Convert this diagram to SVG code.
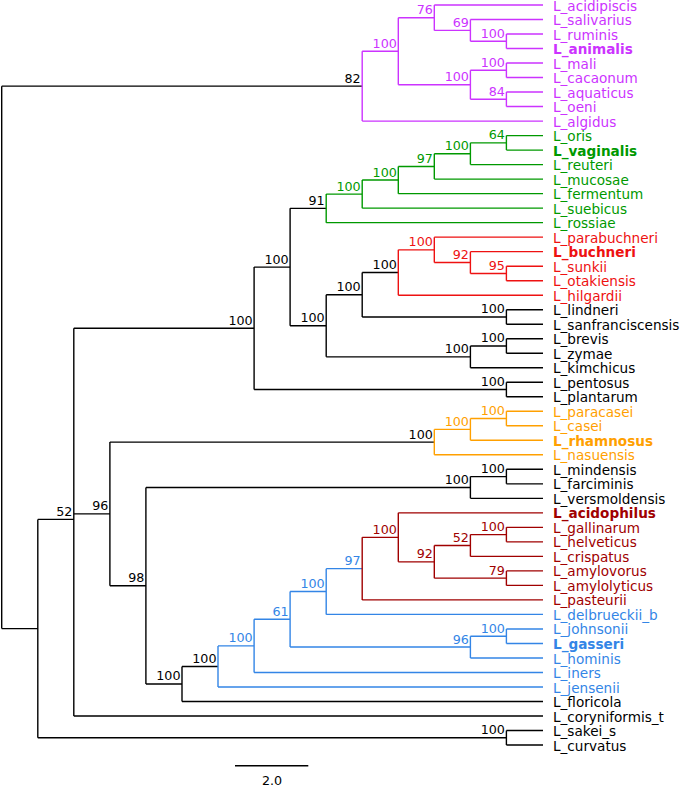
<svg xmlns="http://www.w3.org/2000/svg" width="682" height="787" viewBox="0 0 682 787">
<style>
text{font-family:"DejaVu Sans",Verdana,sans-serif}
.t{font-size:13.6px}
.s{font-size:12.7px;text-anchor:end}
.bd{font-weight:bold}
path{fill:none;stroke-width:1.4}
.k{stroke:#000}.m{stroke:#CC33FF}.g{stroke:#009900}.r{stroke:#EE1111}.o{stroke:#FFA000}.d{stroke:#A00000}.b{stroke:#3385E6}
.tk{fill:#000}.tm{fill:#CC33FF}.tg{fill:#009900}.tr{fill:#EE1111}.to{fill:#FFA000}.td{fill:#A00000}.tb{fill:#3385E6}
</style>
<g id="connectors">
<path class="k" d="M1.7 86.17V628.59M1.7 86.17H362.2M1.7 628.59H37.8M37.8 519.41V737.76M37.8 737.76H506.4M506.4 730.5V745.01M506.4 730.5H543M506.4 745.01H543M37.8 519.41H73.8M73.8 328.31V715.99M73.8 715.99H543M73.8 328.31H254.1M254.1 267.09V389.52M254.1 389.52H506.4M506.4 382.26V396.77M506.4 382.26H543M506.4 396.77H543M254.1 267.09H290.1M290.1 208.37V325.81M290.1 208.37H326.2M290.1 325.81H326.2M326.2 294.75V356.87M326.2 294.75H362.2M362.2 272.53V316.97M362.2 272.53H398.3M362.2 316.97H506.4M506.4 309.71V324.22M506.4 309.71H543M506.4 324.22H543M326.2 356.87H470.4M470.4 345.99V367.75M470.4 367.75H543M470.4 345.99H506.4M506.4 338.73V353.24M506.4 338.73H543M506.4 353.24H543M73.8 513.92H109.9M109.9 442.12V585.71M109.9 442.12H434.3M109.9 585.71H145.9M145.9 487.46V683.96M145.9 487.46H470.4M470.4 476.58V498.34M470.4 498.34H543M470.4 476.58H506.4M506.4 469.32V483.83M506.4 469.32H543M506.4 483.83H543M145.9 683.96H182M182 666.43V701.48M182 701.48H543M182 666.43H218"/>
<path class="m" d="M362.2 51.25V121.08M362.2 121.08H543M362.2 51.25H398.3M398.3 17.7V84.81M398.3 17.7H434.3M434.3 5V30.39M434.3 5H543M434.3 30.39H470.4M470.4 19.51V41.27M470.4 19.51H543M470.4 41.27H506.4M506.4 34.02V48.53M506.4 34.02H543M506.4 48.53H543M398.3 84.81H470.4M470.4 70.3V99.32M470.4 70.3H506.4M506.4 63.04V77.55M506.4 63.04H543M506.4 77.55H543M470.4 99.32H506.4M506.4 92.06V106.57M506.4 92.06H543M506.4 106.57H543"/>
<path class="g" d="M326.2 194.09V222.65M326.2 222.65H543M326.2 194.09H362.2M362.2 180.03V208.14M362.2 208.14H543M362.2 180.03H398.3M398.3 166.43V193.63M398.3 193.63H543M398.3 166.43H434.3M434.3 153.73V179.12M434.3 179.12H543M434.3 153.73H470.4M470.4 142.85V164.61M470.4 164.61H543M470.4 142.85H506.4M506.4 135.59V150.1M506.4 135.59H543M506.4 150.1H543"/>
<path class="r" d="M398.3 249.86V295.2M398.3 295.2H543M398.3 249.86H434.3M434.3 237.16V262.56M434.3 237.16H543M434.3 262.56H470.4M470.4 251.67V273.44M470.4 251.67H543M470.4 273.44H506.4M506.4 266.18V280.69M506.4 266.18H543M506.4 280.69H543"/>
<path class="o" d="M434.3 429.42V454.81M434.3 454.81H543M434.3 429.42H470.4M470.4 418.54V440.3M470.4 440.3H543M470.4 418.54H506.4M506.4 411.28V425.79M506.4 411.28H543M506.4 425.79H543"/>
<path class="b" d="M218 645.88V686.97M218 686.97H543M218 645.88H254.1M254.1 619.3V672.46M254.1 672.46H543M254.1 619.3H290.1M290.1 591.53V647.07M290.1 647.07H470.4M470.4 636.19V657.95M470.4 657.95H543M470.4 636.19H506.4M506.4 628.93V643.44M506.4 628.93H543M506.4 643.44H543M290.1 591.53H326.2M326.2 568.63V614.42M326.2 614.42H543M326.2 568.63H362.2"/>
<path class="d" d="M362.2 537.34V599.91M362.2 599.91H543M362.2 537.34H398.3M398.3 512.85V561.83M398.3 512.85H543M398.3 561.83H434.3M434.3 545.5V578.15M434.3 545.5H470.4M470.4 534.62V556.38M470.4 556.38H543M470.4 534.62H506.4M506.4 527.36V541.87M506.4 527.36H543M506.4 541.87H543M434.3 578.15H506.4M506.4 570.89V585.4M506.4 570.89H543M506.4 585.4H543"/>
</g>
<g id="support-values">
<g id="n-82"><text class="s tk" x="360.7" y="82.67">82</text></g>
<g id="n-m1"><text class="s tm" x="396.8" y="47.75">100</text></g>
<g id="n-m2"><text class="s tm" x="432.8" y="14.2">76</text></g>
<g id="n-m3"><text class="s tm" x="468.9" y="26.89">69</text></g>
<g id="n-m4"><text class="s tm" x="504.9" y="37.77">100</text></g>
<g id="n-m5"><text class="s tm" x="468.9" y="81.31">100</text></g>
<g id="n-m6"><text class="s tm" x="504.9" y="66.8">100</text></g>
<g id="n-m7"><text class="s tm" x="504.9" y="95.82">84</text></g>
<g id="n-91"><text class="s tk" x="324.7" y="204.87">91</text></g>
<g id="n-g1"><text class="s tg" x="360.7" y="190.59">100</text></g>
<g id="n-g2"><text class="s tg" x="396.8" y="176.53">100</text></g>
<g id="n-g3"><text class="s tg" x="432.8" y="162.93">97</text></g>
<g id="n-g4"><text class="s tg" x="468.9" y="150.23">100</text></g>
<g id="n-g5"><text class="s tg" x="504.9" y="139.35">64</text></g>
<g id="n-k1"><text class="s tk" x="288.6" y="263.59">100</text></g>
<g id="n-k2"><text class="s tk" x="324.7" y="322.31">100</text></g>
<g id="n-k3"><text class="s tk" x="360.7" y="291.25">100</text></g>
<g id="n-k4"><text class="s tk" x="396.8" y="269.03">100</text></g>
<g id="n-r1"><text class="s tr" x="432.8" y="246.36">100</text></g>
<g id="n-r2"><text class="s tr" x="468.9" y="259.06">92</text></g>
<g id="n-r3"><text class="s tr" x="504.9" y="269.94">95</text></g>
<g id="n-k5"><text class="s tk" x="504.9" y="313.47">100</text></g>
<g id="n-k6"><text class="s tk" x="468.9" y="353.37">100</text></g>
<g id="n-k7"><text class="s tk" x="504.9" y="342.49">100</text></g>
<g id="n-k8"><text class="s tk" x="504.9" y="386.02">100</text></g>
<g id="n-k9"><text class="s tk" x="252.6" y="324.81">100</text></g>
<g id="n-k10"><text class="s tk" x="432.8" y="438.62">100</text></g>
<g id="n-o1"><text class="s to" x="468.9" y="425.92">100</text></g>
<g id="n-o2"><text class="s to" x="504.9" y="415.04">100</text></g>
<g id="n-k11"><text class="s tk" x="468.9" y="483.96">100</text></g>
<g id="n-k12"><text class="s tk" x="504.9" y="473.08">100</text></g>
<g id="n-52"><text class="s tk" x="72.3" y="515.91">52</text></g>
<g id="n-96"><text class="s tk" x="108.4" y="510.42">96</text></g>
<g id="n-98"><text class="s tk" x="144.4" y="582.21">98</text></g>
<g id="n-k13"><text class="s tk" x="180.5" y="680.46">100</text></g>
<g id="n-k14"><text class="s tk" x="216.5" y="662.93">100</text></g>
<g id="n-b1"><text class="s tb" x="252.6" y="642.38">100</text></g>
<g id="n-b2"><text class="s tb" x="288.6" y="615.8">61</text></g>
<g id="n-b3"><text class="s tb" x="324.7" y="588.03">100</text></g>
<g id="n-b4"><text class="s tb" x="360.7" y="565.13">97</text></g>
<g id="n-d1"><text class="s td" x="396.8" y="533.84">100</text></g>
<g id="n-d2"><text class="s td" x="432.8" y="558.33">92</text></g>
<g id="n-d3"><text class="s td" x="468.9" y="542">52</text></g>
<g id="n-d4"><text class="s td" x="504.9" y="531.12">100</text></g>
<g id="n-d5"><text class="s td" x="504.9" y="574.65">79</text></g>
<g id="n-b5"><text class="s tb" x="468.9" y="643.57">96</text></g>
<g id="n-b6"><text class="s tb" x="504.9" y="632.69">100</text></g>
<g id="n-k15"><text class="s tk" x="504.9" y="734.26">100</text></g>
</g>
<g id="leaves">
<g id="L_acidipiscis"><text class="t tm" x="553" y="10.5">L_acidipiscis</text></g>
<g id="L_salivarius"><text class="t tm" x="553" y="25">L_salivarius</text></g>
<g id="L_ruminis"><text class="t tm" x="553" y="39.5">L_ruminis</text></g>
<g id="L_animalis"><text class="t tm bd" x="553" y="54">L_animalis</text></g>
<g id="L_mali"><text class="t tm" x="553" y="68.5">L_mali</text></g>
<g id="L_cacaonum"><text class="t tm" x="553" y="83">L_cacaonum</text></g>
<g id="L_aquaticus"><text class="t tm" x="553" y="97.5">L_aquaticus</text></g>
<g id="L_oeni"><text class="t tm" x="553" y="112">L_oeni</text></g>
<g id="L_algidus"><text class="t tm" x="553" y="126.5">L_algidus</text></g>
<g id="L_oris"><text class="t tg" x="553" y="141">L_oris</text></g>
<g id="L_vaginalis"><text class="t tg bd" x="553" y="155.6">L_vaginalis</text></g>
<g id="L_reuteri"><text class="t tg" x="553" y="170.1">L_reuteri</text></g>
<g id="L_mucosae"><text class="t tg" x="553" y="184.6">L_mucosae</text></g>
<g id="L_fermentum"><text class="t tg" x="553" y="199.1">L_fermentum</text></g>
<g id="L_suebicus"><text class="t tg" x="553" y="213.6">L_suebicus</text></g>
<g id="L_rossiae"><text class="t tg" x="553" y="228.1">L_rossiae</text></g>
<g id="L_parabuchneri"><text class="t tr" x="553" y="242.7">L_parabuchneri</text></g>
<g id="L_buchneri"><text class="t tr bd" x="553" y="257.2">L_buchneri</text></g>
<g id="L_sunkii"><text class="t tr" x="553" y="271.7">L_sunkii</text></g>
<g id="L_otakiensis"><text class="t tr" x="553" y="286.2">L_otakiensis</text></g>
<g id="L_hilgardii"><text class="t tr" x="553" y="300.7">L_hilgardii</text></g>
<g id="L_lindneri"><text class="t tk" x="553" y="315.2">L_lindneri</text></g>
<g id="L_sanfranciscensis"><text class="t tk" x="553" y="329.7">L_sanfranciscensis</text></g>
<g id="L_brevis"><text class="t tk" x="553" y="344.2">L_brevis</text></g>
<g id="L_zymae"><text class="t tk" x="553" y="358.7">L_zymae</text></g>
<g id="L_kimchicus"><text class="t tk" x="553" y="373.2">L_kimchicus</text></g>
<g id="L_pentosus"><text class="t tk" x="553" y="387.8">L_pentosus</text></g>
<g id="L_plantarum"><text class="t tk" x="553" y="402.3">L_plantarum</text></g>
<g id="L_paracasei"><text class="t to" x="553" y="416.8">L_paracasei</text></g>
<g id="L_casei"><text class="t to" x="553" y="431.3">L_casei</text></g>
<g id="L_rhamnosus"><text class="t to bd" x="553" y="445.8">L_rhamnosus</text></g>
<g id="L_nasuensis"><text class="t to" x="553" y="460.3">L_nasuensis</text></g>
<g id="L_mindensis"><text class="t tk" x="553" y="474.8">L_mindensis</text></g>
<g id="L_farciminis"><text class="t tk" x="553" y="489.3">L_farciminis</text></g>
<g id="L_versmoldensis"><text class="t tk" x="553" y="503.8">L_versmoldensis</text></g>
<g id="L_acidophilus"><text class="t td bd" x="553" y="518.4">L_acidophilus</text></g>
<g id="L_gallinarum"><text class="t td" x="553" y="532.9">L_gallinarum</text></g>
<g id="L_helveticus"><text class="t td" x="553" y="547.4">L_helveticus</text></g>
<g id="L_crispatus"><text class="t td" x="553" y="561.9">L_crispatus</text></g>
<g id="L_amylovorus"><text class="t td" x="553" y="576.4">L_amylovorus</text></g>
<g id="L_amylolyticus"><text class="t td" x="553" y="590.9">L_amylolyticus</text></g>
<g id="L_pasteurii"><text class="t td" x="553" y="605.4">L_pasteurii</text></g>
<g id="L_delbrueckii_b"><text class="t tb" x="553" y="619.9">L_delbrueckii_b</text></g>
<g id="L_johnsonii"><text class="t tb" x="553" y="634.4">L_johnsonii</text></g>
<g id="L_gasseri"><text class="t tb bd" x="553" y="648.9">L_gasseri</text></g>
<g id="L_hominis"><text class="t tb" x="553" y="663.5">L_hominis</text></g>
<g id="L_iners"><text class="t tb" x="553" y="678">L_iners</text></g>
<g id="L_jensenii"><text class="t tb" x="553" y="692.5">L_jensenii</text></g>
<g id="L_floricola"><text class="t tk" x="553" y="707">L_floricola</text></g>
<g id="L_coryniformis_t"><text class="t tk" x="553" y="721.5">L_coryniformis_t</text></g>
<g id="L_sakei_s"><text class="t tk" x="553" y="736">L_sakei_s</text></g>
<g id="L_curvatus"><text class="t tk" x="553" y="750.5">L_curvatus</text></g>
</g>
<g id="scale-bar">
<path class="k" d="M235 765.7H308.3"/>
<text x="272" y="785" style="font-size:12.7px;text-anchor:middle" fill="#000">2.0</text>
</g>
</svg>
